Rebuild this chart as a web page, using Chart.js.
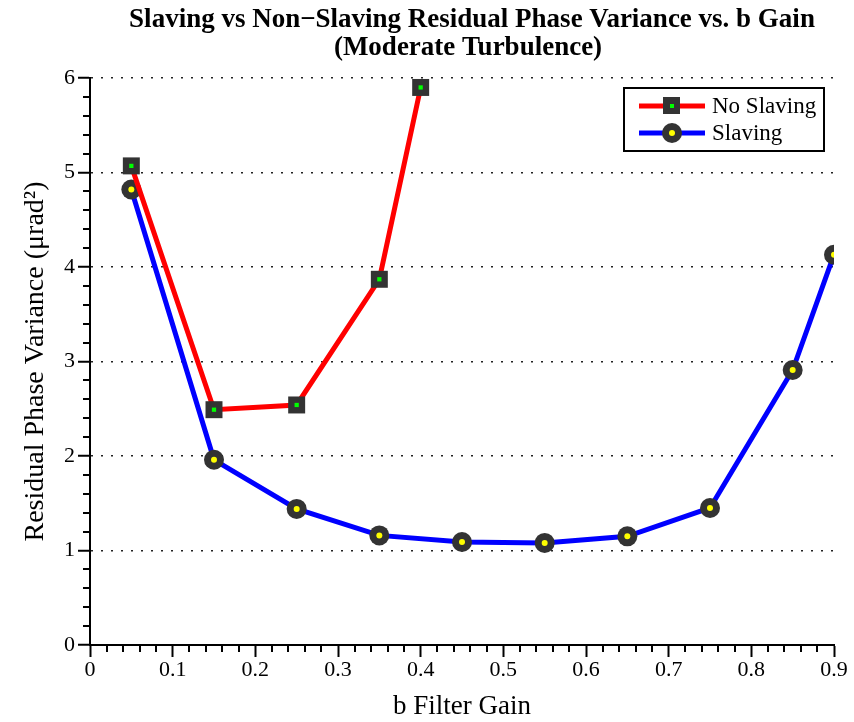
<!DOCTYPE html>
<html>
<head>
<meta charset="utf-8">
<script src="https://cdn.jsdelivr.net/npm/chart.js@4/dist/chart.umd.min.js"></script>
<style>
  body { margin: 0; background: #fff; }
  #wrap { width: 854px; height: 722px; }
</style>
</head>
<body>
<div id="wrap"><canvas id="myChart" width="854" height="722"></canvas></div>
<script>
// values
const noSlavGain = [0.05, 0.15, 0.25, 0.35, 0.40];
const noSlavVar  = [5.07, 2.49, 2.54, 3.87, 5.90];
const slavGain   = [0.05, 0.15, 0.25, 0.35, 0.45, 0.55, 0.65, 0.75, 0.85, 0.90];
const slavVar    = [4.82, 1.96, 1.44, 1.16, 1.09, 1.08, 1.15, 1.45, 2.91, 4.13];
const xTicksMinor = [0.02, 0.04, 0.06, 0.08, 0.12, 0.14, 0.16, 0.18, 0.22, 0.24, 0.26, 0.28, 0.32, 0.34, 0.36, 0.38,
  0.42, 0.44, 0.46, 0.48, 0.52, 0.54, 0.56, 0.58, 0.62, 0.64, 0.66, 0.68, 0.72, 0.74, 0.76, 0.78, 0.82, 0.84, 0.86, 0.88];
const yTicksMinor = [0.2, 0.4, 0.6, 0.8, 1.2, 1.4, 1.6, 1.8, 2.2, 2.4, 2.6, 2.8, 3.2, 3.4, 3.6, 3.8, 4.2, 4.4, 4.6, 4.8, 5.2, 5.4, 5.6, 5.8];
const seriesNames = ["No Slaving", "Slaving"];
const titleLines = ['Slaving vs Non\u2212Slaving Residual Phase Variance vs. b Gain', '(Moderate Turbulence)'];

const serif = "'Liberation Serif', 'Times New Roman', serif";
const markerCol = '#333333';

function pts(xs, ys) {
  return xs.map((x, i) => ({x: x, y: ys[i]}));
}

// title centred a bit right of the canvas middle like the original
const topTitle = {
  id: 'topTitle',
  afterDraw(chart) {
    const ctx = chart.ctx;
    ctx.save();
    ctx.fillStyle = '#000';
    ctx.font = 'bold 27px ' + serif;
    ctx.textAlign = 'center';
    ctx.textBaseline = 'middle';
    ctx.fillText(titleLines[0], 472, 20);
    ctx.fillText(titleLines[1], 468, 48);
    ctx.restore();
  }
};

// minor ticks on both axes
const minorTicks = {
  id: 'minorTicks',
  afterDraw(chart) {
    const ctx = chart.ctx;
    const xs = chart.scales.x, ys = chart.scales.y;
    ctx.save();
    ctx.strokeStyle = '#000';
    ctx.lineWidth = 2;
    ctx.beginPath();
    for (const v of xTicksMinor) {
      const px = Math.round(xs.getPixelForValue(v));
      ctx.moveTo(px, xs.top);
      ctx.lineTo(px, xs.top + 7);
    }
    for (const v of yTicksMinor) {
      const py = Math.round(ys.getPixelForValue(v));
      ctx.moveTo(ys.right, py);
      ctx.lineTo(ys.right - 7, py);
    }
    ctx.stroke();
    ctx.restore();
  }
};

// matlab-ish legend box, line through marker
const boxLegend = {
  id: 'boxLegend',
  afterDraw(chart) {
    const ctx = chart.ctx;
    const a = chart.chartArea;
    const x0 = a.right - 210, y0 = a.top + 10, w = 200, h = 63;
    ctx.save();
    ctx.fillStyle = '#fff';
    ctx.fillRect(x0, y0, w, h);
    ctx.strokeStyle = '#000';
    ctx.lineWidth = 2;
    ctx.strokeRect(x0, y0, w, h);
    const rows = [
      {name: seriesNames[0], col: '#ff0000', dot: '#00ff00', style: 'rect'},
      {name: seriesNames[1], col: '#0000ff', dot: '#ffff00', style: 'circle'}
    ];
    rows.forEach((r, i) => {
      const cy = y0 + 18 + i * 27;
      ctx.strokeStyle = r.col;
      ctx.lineWidth = 5;
      ctx.beginPath();
      ctx.moveTo(x0 + 15, cy);
      ctx.lineTo(x0 + 81, cy);
      ctx.stroke();
      ctx.fillStyle = markerCol;
      ctx.beginPath();
      if (r.style == 'rect') ctx.rect(x0 + 39, cy - 9, 17, 17);
      else ctx.arc(x0 + 48, cy, 10, 0, Math.PI * 2);
      ctx.fill();
      ctx.fillStyle = r.dot;
      ctx.beginPath();
      if (r.style == 'rect') ctx.rect(x0 + 46, cy - 2, 4, 4);
      else ctx.arc(x0 + 48, cy, 3, 0, Math.PI * 2);
      ctx.fill();
      ctx.fillStyle = '#000';
      ctx.font = '23px ' + serif;
      ctx.textBaseline = 'middle';
      ctx.fillText(r.name, x0 + 88, cy + 1);
    });
    ctx.restore();
  }
};

const ctx = document.getElementById('myChart').getContext('2d');
const myChart = new Chart(ctx, {
  type: 'scatter',
  data: {
    datasets: [
      {
        label: seriesNames[0],
        data: pts(noSlavGain, noSlavVar),
        showLine: true,
        borderColor: '#ff0000',
        borderWidth: 5,
        pointStyle: 'rect',
        pointRadius: 12,
        pointBackgroundColor: markerCol,
        pointBorderColor: markerCol,
        pointBorderWidth: 0,
        order: 1
      },
      {
        label: 'ns-dot',
        data: pts(noSlavGain, noSlavVar),
        showLine: false,
        pointStyle: 'rect',
        pointRadius: 3,
        pointBackgroundColor: '#00ff00',
        pointBorderWidth: 0,
        order: 0
      },
      {
        label: seriesNames[1],
        data: pts(slavGain, slavVar),
        showLine: true,
        borderColor: '#0000ff',
        borderWidth: 5,
        pointStyle: 'circle',
        pointRadius: 10,
        pointBackgroundColor: markerCol,
        pointBorderColor: markerCol,
        pointBorderWidth: 0,
        order: 2
      },
      {
        label: 's-dot',
        data: pts(slavGain, slavVar),
        showLine: false,
        pointStyle: 'circle',
        pointRadius: 3,
        pointBackgroundColor: '#ffff00',
        pointBorderWidth: 0,
        order: 0
      }
    ]
  },
  options: {
    responsive: false,
    animation: false,
    layout: {padding: {left: 0, right: 20, top: 78, bottom: 0}},
    plugins: {
      legend: {display: false},
      tooltip: {enabled: false},
      title: {display: false}
    },
    scales: {
      x: {
        type: 'linear',
        min: 0,
        max: 0.9,
        afterFit(scale) { scale.height = 77; },
        ticks: {
          stepSize: 0.1,
          color: '#000',
          padding: 0,
          maxRotation: 0,
          font: {family: serif, size: 22},
          callback: v => String(Number(v.toFixed(2)))
        },
        grid: {drawOnChartArea: false, drawTicks: true, tickLength: 12, tickColor: '#000', tickWidth: 2},
        border: {color: '#000', width: 2},
        title: {
          display: true,
          text: 'b Filter Gain',
          color: '#000',
          font: {family: serif, size: 27, lineHeight: 1.0},
          padding: {top: 0, bottom: 2}
        }
      },
      y: {
        min: 0,
        max: 6,
        afterFit(scale) { scale.width = 90; },
        ticks: {
          stepSize: 1,
          color: '#000',
          padding: 3,
          font: {family: serif, size: 22}
        },
        grid: {
          color: '#222',
          lineWidth: 1.5,
          drawTicks: true,
          tickLength: 12,
          tickColor: '#000',
          tickWidth: 2,
          tickBorderDash: []
        },
        border: {color: '#000', width: 2, dash: [2, 8]},
        title: {
          display: true,
          text: 'Residual Phase Variance (\u03bcrad\u00b2)',
          color: '#000',
          font: {family: serif, size: 28, lineHeight: 1.1},
          padding: {top: 20, bottom: 0}
        }
      }
    }
  },
  plugins: [topTitle, minorTicks, boxLegend]
});
</script>
</body>
</html>
